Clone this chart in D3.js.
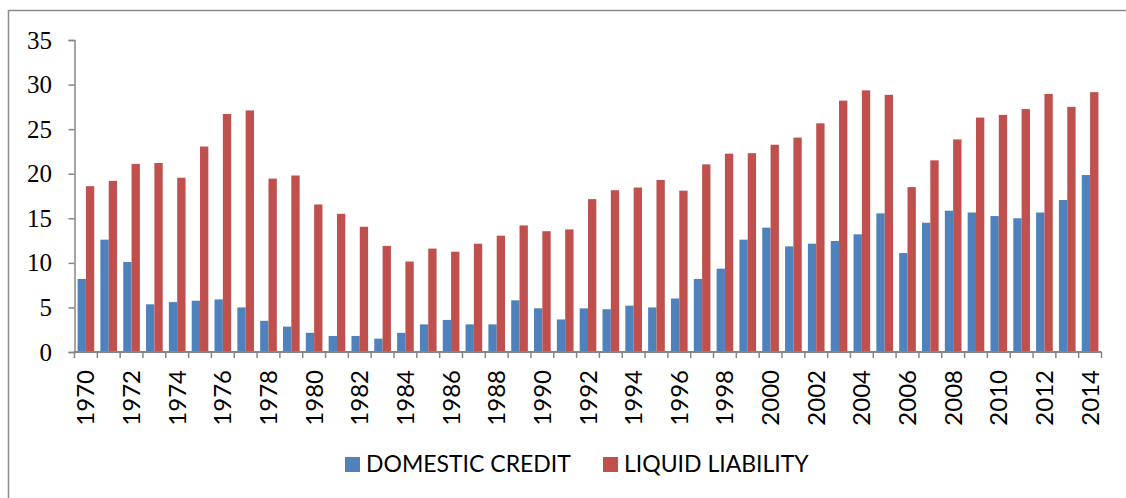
<!DOCTYPE html>
<html>
<head>
<meta charset="utf-8">
<script src="https://cdn.jsdelivr.net/npm/d3@7"></script>
<style>
  body { margin: 0; background: #fff; }
  svg { display: block; }
  .ylab { font-family: "Liberation Serif", "DejaVu Serif", serif; font-size: 25px; }
</style>
</head>
<body>
<div id="chart-container"></div>
<script>
// data
const years = d3.range(1970, 2015);
const domesticCredit = [
  8.2, 12.6, 10.1, 5.35, 5.6, 5.75, 5.9, 5.0, 3.5, 2.85,
  2.15, 1.8, 1.8, 1.5, 2.15, 3.1, 3.6, 3.1, 3.1, 5.8,
  4.9, 3.65, 4.9, 4.8, 5.2, 5.0, 6.0, 8.2, 9.35, 12.6,
  13.95, 11.85, 12.15, 12.45, 13.2, 15.55, 11.1, 14.5, 15.85, 15.65,
  15.25, 15.0, 15.65, 17.05, 19.85
];
const liquidLiability = [
  18.6, 19.2, 21.1, 21.2, 19.55, 23.05, 26.7, 27.1, 19.45, 19.8,
  16.55, 15.5, 14.05, 11.9, 10.15, 11.6, 11.25, 12.15, 13.05, 14.2,
  13.55, 13.75, 17.15, 18.15, 18.45, 19.3, 18.1, 21.05, 22.25, 22.3,
  23.25, 24.05, 25.65, 28.2, 29.35, 28.85, 18.5, 21.5, 23.85, 26.3,
  26.6, 27.25, 28.95, 27.5, 29.15
];
const yTicks = [0, 5, 10, 15, 20, 25, 30, 35];
const seriesNames = ["DOMESTIC CREDIT", "LIQUID LIABILITY"];
const seriesColors = ["#4f81bd", "#c0504d"];

const svgWidth = 1126;
const svgHeight = 498;
const plot = { left: 74.5, right: 1101.5, top: 40, bottom: 352 };
const axisColor = "#868686";
const sansFont = "Lato, 'Open Sans', sans-serif";

const svg = d3.select("#chart-container")
  .append("svg")
  .attr("width", svgWidth)
  .attr("height", svgHeight);

// outer frame, only top and left edges fall inside the picture
svg.append("rect")
  .attr("x", 8.5).attr("y", 10.5)
  .attr("width", 1200).attr("height", 600)
  .attr("fill", "none")
  .attr("stroke", "#8c8c8c")
  .attr("stroke-width", 1.5);

const x = d3.scaleBand()
  .domain(years)
  .range([plot.left, plot.right]);

const xInner = d3.scaleBand()
  .domain([0, 1])
  .range([0, x.bandwidth()])
  .paddingInner(0)
  .paddingOuter(0.37);

const y = d3.scaleLinear()
  .domain([0, 35])
  .range([plot.bottom, plot.top]);

// bars
const data = years.map((yr, i) => ({ year: yr, vals: [domesticCredit[i], liquidLiability[i]] }));
const groups = svg.append("g")
  .selectAll("g")
  .data(data)
  .join("g")
  .attr("transform", d => `translate(${x(d.year)},0)`);

groups.selectAll("rect")
  .data(d => d.vals.map((v, k) => ({ k: k, v: v })))
  .join("rect")
  .attr("x", d => xInner(d.k))
  .attr("width", xInner.bandwidth())
  .attr("y", d => y(d.v))
  .attr("height", d => y(0) - y(d.v))
  .attr("fill", d => seriesColors[d.k]);

// y axis (lines from d3, labels drawn separately in serif)
const yAxis = svg.append("g")
  .attr("transform", `translate(${plot.left},0)`)
  .call(d3.axisLeft(y).tickValues(yTicks).tickSize(6).tickFormat(""));
yAxis.select(".domain").attr("stroke", axisColor).attr("stroke-width", 1.5);
yAxis.selectAll(".tick line").attr("stroke", axisColor).attr("stroke-width", 1.5);

svg.append("g")
  .selectAll("text")
  .data(yTicks)
  .join("text")
  .attr("class", "ylab")
  .attr("x", 52)
  .attr("y", d => y(d))
  .attr("dy", "0.34em")
  .attr("text-anchor", "end")
  .attr("fill", "#000")
  .text(d => d);

// x axis: ticks on category boundaries
const xAxisG = svg.append("g")
  .attr("transform", `translate(0,${plot.bottom})`);
xAxisG.append("line")
  .attr("x1", plot.left).attr("x2", plot.right)
  .attr("stroke", axisColor).attr("stroke-width", 2);
const boundaries = years.map(yr => x(yr)).concat([plot.right]);
xAxisG.selectAll("line.tk")
  .data(boundaries)
  .join("line")
  .attr("class", "tk")
  .attr("x1", d => d).attr("x2", d => d)
  .attr("y1", 0).attr("y2", 6)
  .attr("stroke", axisColor).attr("stroke-width", 1.5);

xAxisG.selectAll("text")
  .data(years.filter(yr => (yr - 1970) % 2 === 0))
  .join("text")
  .attr("transform", d => `translate(${x(d) + x.bandwidth() / 2 + 8.5},18) rotate(-90)`)
  .attr("text-anchor", "end")
  .style("font-family", sansFont)
  .style("font-size", "24px")
  .attr("fill", "#000")
  .text(d => d);

// legend
const legend = svg.append("g");
const legendX = [345, 603];
seriesNames.forEach((name, k) => {
  legend.append("rect")
    .attr("x", legendX[k]).attr("y", 457)
    .attr("width", 15).attr("height", 15)
    .attr("fill", seriesColors[k]);
  legend.append("text")
    .attr("x", legendX[k] + 21).attr("y", 472)
    .style("font-family", sansFont)
    .style("font-size", "23px")
    .attr("fill", "#000")
    .text(name);
});
</script>
</body>
</html>
